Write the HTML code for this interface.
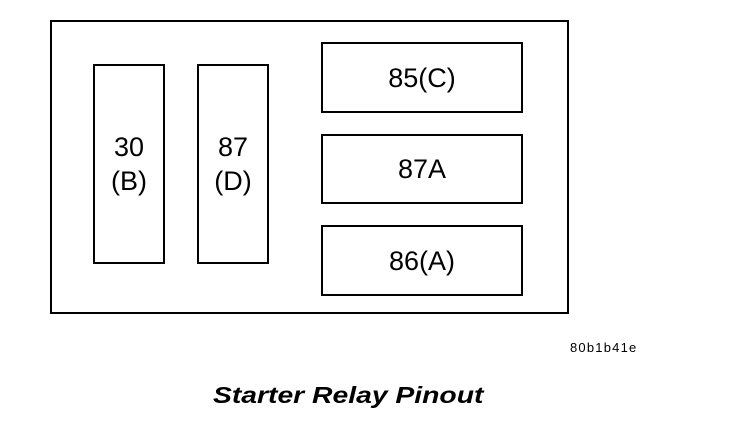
<!DOCTYPE html>
<html><head><style>
body{margin:0;width:736px;height:432px;background:#fff;position:relative;overflow:hidden;font-family:"Liberation Sans",Arial,sans-serif;}
.b{position:absolute;border:2px solid #000;box-sizing:border-box;display:flex;align-items:center;justify-content:center;text-align:center;font-size:27px;line-height:34px;color:#000;}
</style></head><body>
<div class="b" style="left:50px;top:20px;width:519px;height:294px;"></div>
<div class="b" style="left:93px;top:64px;width:72px;height:200px;">30<br>(B)</div>
<div class="b" style="left:197px;top:64px;width:72px;height:200px;">87<br>(D)</div>
<div class="b" style="left:321px;top:42px;width:202px;height:71px;">85(C)</div>
<div class="b" style="left:321px;top:134px;width:202px;height:70px;">87A</div>
<div class="b" style="left:321px;top:225px;width:202px;height:71px;">86(A)</div>
<div style="position:absolute;left:570px;top:340px;font-size:13px;letter-spacing:1.2px;">80b1b41e</div>
<div style="position:absolute;left:213px;top:382px;font-size:23px;font-weight:bold;font-style:italic;white-space:nowrap;transform-origin:0 0;transform:scaleX(1.23);">Starter Relay Pinout</div>
</body></html>
